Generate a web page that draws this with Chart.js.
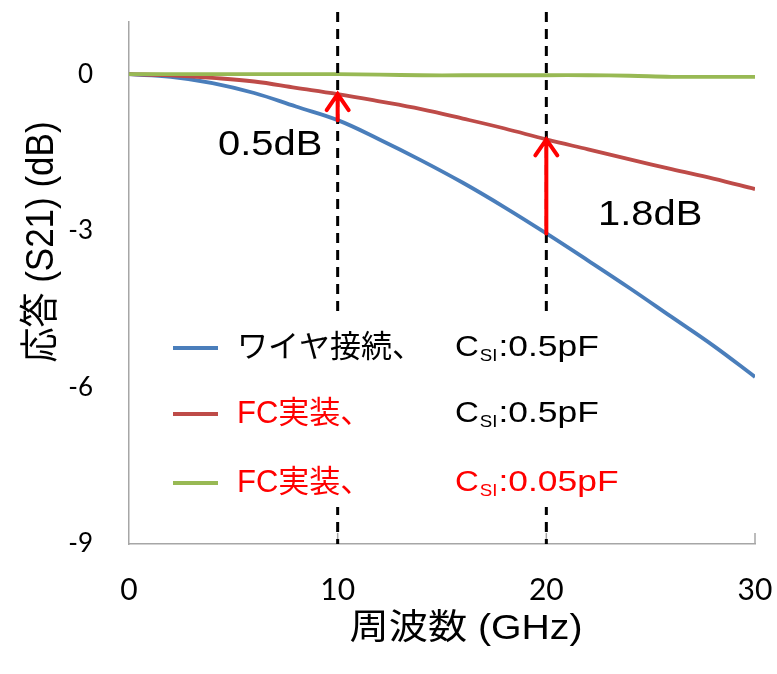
<!DOCTYPE html>
<html>
<head>
<meta charset="utf-8">
<script src="https://cdn.jsdelivr.net/npm/chart.js@4"></script>
<style>
  html, body { margin: 0; background: #fff; }
  #wrap { width: 777px; height: 674px; }
</style>
</head>
<body>
<div id="wrap"><canvas id="s21" width="777" height="674"></canvas></div>
<script>
// Frequency sweep (GHz) and S21 response (dB) for each mounting
const freq   = [0, 2, 4, 6, 8, 10, 12, 14, 16, 18, 20, 22, 24, 26, 28, 30];
const wire05 = [0, -0.05, -0.17, -0.36, -0.62, -0.88, -1.25, -1.65, -2.08, -2.55, -3.05, -3.57, -4.1, -4.65, -5.2, -5.8];
const fc05   = [0, -0.02, -0.07, -0.14, -0.26, -0.38, -0.52, -0.67, -0.85, -1.04, -1.25, -1.44, -1.63, -1.82, -2.0, -2.2];
const fc005  = [0, 0, 0, 0, 0, 0, -0.01, -0.02, -0.02, -0.02, -0.02, -0.02, -0.03, -0.05, -0.05, -0.05];

const xTicks = [0, 10, 20, 30];
const yTicks = [-9, -6, -3, 0];

// marker frequencies with the gap between wire and FC curves
const markFreq  = [10, 20];
const gapLabels = ["0.5dB", "1.8dB"];

const legendNames  = ["ワイヤ接続、", "FC実装、", "FC実装、"];
const legendCaps   = [":0.5pF", ":0.5pF", ":0.05pF"];
const nameColors   = ["#000", "#f00", "#f00"];
const capColors    = ["#000", "#000", "#f00"];
const seriesColors = ["#4A7EBB", "#BE4B48", "#98B954"];

const pts = arr => freq.map((f, i) => ({ x: f, y: arr[i] }));

// text drawn a little wider than the font's natural width
function wideText(ctx, text, x, y, font, color, align, sx) {
  ctx.save();
  ctx.translate(x, y);
  ctx.scale(sx, 1);
  ctx.font = font;
  ctx.fillStyle = color;
  ctx.textAlign = align || "left";
  ctx.textBaseline = "middle";
  ctx.fillText(text, 0, 0);
  const w = ctx.measureText(text).width * sx;
  ctx.restore();
  return w;
}

function arrow(ctx, x, y0, y1) {
  ctx.save();
  ctx.strokeStyle = "#f00";
  ctx.lineWidth = 4;
  ctx.lineCap = "round";
  ctx.beginPath();
  ctx.moveTo(x, y0);
  ctx.lineTo(x, y1);
  ctx.moveTo(x - 11, y1 + 16);
  ctx.lineTo(x, y1);
  ctx.lineTo(x + 11, y1 + 16);
  ctx.stroke();
  ctx.restore();
}

// fixed axis sizes, no extra room for edge labels
function fixBox(s, w, h) {
  if (w !== undefined) s.width = w;
  if (h !== undefined) s.height = h;
  s.paddingLeft = s.paddingRight = s.paddingTop = s.paddingBottom = 0;
}

const overlay = {
  id: "overlay",
  afterDatasetsDraw(chart) {
    const ctx = chart.ctx;
    const xs = chart.scales.x, ys = chart.scales.y;
    const area = chart.chartArea;

    // small inner ticks on the x axis
    ctx.save();
    ctx.strokeStyle = "#a6a6a6";
    ctx.lineWidth = 1.5;
    xTicks.slice(1).forEach(v => {
      const px = xs.getPixelForValue(v);
      ctx.beginPath();
      ctx.moveTo(px, area.bottom);
      ctx.lineTo(px, area.bottom - 11);
      ctx.stroke();
    });
    ctx.restore();

    // dashed markers
    ctx.save();
    ctx.strokeStyle = "#000";
    ctx.lineWidth = 3;
    ctx.setLineDash([10, 7]);
    markFreq.forEach(f => {
      const px = xs.getPixelForValue(f);
      ctx.beginPath();
      ctx.moveTo(px, 12);
      ctx.lineTo(px, area.bottom);
      ctx.stroke();
    });
    ctx.restore();

    // arrows from the wire curve up to the FC curve
    markFreq.forEach(f => {
      const i = freq.indexOf(f);
      const px = xs.getPixelForValue(f);
      arrow(ctx, px, ys.getPixelForValue(wire05[i]), ys.getPixelForValue(fc05[i]));
    });

    const latin = "'Liberation Sans', 'Noto Sans CJK JP', sans-serif";
    wideText(ctx, gapLabels[0], 218, 145, "35px " + latin, "#000", "left", 1.14);
    wideText(ctx, gapLabels[1], 598, 215, "35px " + latin, "#000", "left", 1.14);

    // legend on a white box that hides the markers behind it
    ctx.fillStyle = "#fff";
    ctx.fillRect(162, 317, 462, 190);
    const rows = [348, 414, 483];
    rows.forEach((ly, k) => {
      ctx.save();
      ctx.strokeStyle = seriesColors[k];
      ctx.lineWidth = 4;
      ctx.beginPath();
      ctx.moveTo(173, ly);
      ctx.lineTo(218, ly);
      ctx.stroke();
      ctx.restore();
      wideText(ctx, legendNames[k], 237, ly, "31px " + latin, nameColors[k], "left", 1.0);
      let cx = 455;
      cx += wideText(ctx, "C", cx, ly, "30px " + latin, capColors[k], "left", 1.1);
      cx += wideText(ctx, "SI", cx + 1, ly + 8, "17px " + latin, capColors[k], "left", 1.1) + 2;
      wideText(ctx, legendCaps[k], cx, ly, "30px " + latin, capColors[k], "left", 1.18);
    });

    // axis titles
    const title = "35px " + latin;
    wideText(ctx, "周波数 (GHz)", 466, 629, title, "#000", "center", 1.12);
    ctx.save();
    ctx.translate(42, 242);
    ctx.scale(1.1, 1);
    ctx.rotate(-Math.PI / 2);
    ctx.font = title;
    ctx.fillStyle = "#000";
    ctx.textAlign = "center";
    ctx.textBaseline = "middle";
    ctx.fillText("応答 (S21) (dB)", 0, 0);
    ctx.restore();
  }
};

new Chart(document.getElementById("s21"), {
  type: "line",
  data: {
    datasets: [
      { label: "ワイヤ接続、CSI:0.5pF", data: pts(wire05), borderColor: seriesColors[0], order: 2 },
      { label: "FC実装、CSI:0.5pF", data: pts(fc05), borderColor: seriesColors[1], order: 1 },
      { label: "FC実装、CSI:0.05pF", data: pts(fc005), borderColor: seriesColors[2], order: 0 }
    ]
  },
  options: {
    responsive: false,
    animation: false,
    layout: { padding: { left: 0, top: 22, right: 22, bottom: 0 } },
    elements: {
      line: { borderWidth: 3.8, tension: 0.4, fill: false },
      point: { radius: 0 }
    },
    plugins: { legend: { display: false }, tooltip: { enabled: false } },
    scales: {
      x: {
        type: "linear",
        min: 0,
        max: 30,
        afterBuildTicks: s => { s.ticks = xTicks.map(v => ({ value: v })); },
        afterFit: s => fixBox(s, undefined, 130),
        grid: { display: false, drawTicks: false },
        border: { color: "#a6a6a6", width: 1.5 },
        ticks: { color: "#000", padding: 28, maxRotation: 0, font: { family: "Lato", size: 30 } }
      },
      y: {
        min: -9,
        max: 1,
        afterBuildTicks: s => { s.ticks = yTicks.map(v => ({ value: v })); },
        afterFit: s => fixBox(s, 129, undefined),
        grid: { display: false, drawTicks: false },
        border: { color: "#a6a6a6", width: 1.5 },
        ticks: { color: "#000", padding: 36, font: { family: "Lato", size: 26 } }
      }
    }
  },
  plugins: [overlay]
});
</script>
</body>
</html>
